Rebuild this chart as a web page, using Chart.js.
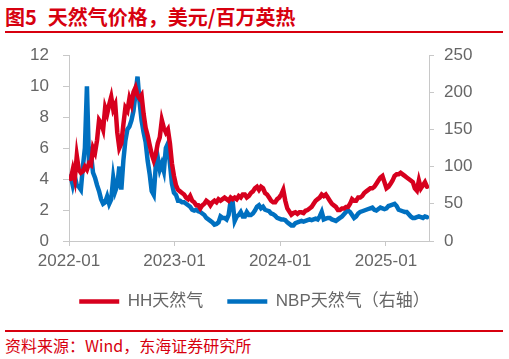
<!DOCTYPE html>
<html>
<head>
<meta charset="utf-8">
<script src="https://cdn.jsdelivr.net/npm/chart.js@4"></script>
<style>
  html, body { margin: 0; padding: 0; background: #fff; }
  #wrap { position: relative; width: 509px; height: 359px; overflow: hidden; }
  .title { position: absolute; left: 5px; top: 4px; font: bold 20px "Noto Sans CJK SC", sans-serif; color: #d7000f; line-height: 26px; white-space: pre; }
  .title span + span { margin-left: 11px; }
  .rule { position: absolute; left: 5px; width: 498px; height: 2px; background: #d7000f; }
  .source { position: absolute; left: 5px; top: 334px; font: 16px "Noto Sans CJK SC", sans-serif; color: #d7000f; line-height: 22px; }
  #box { position: absolute; left: 0; top: 0; width: 509px; height: 330px; }
</style>
</head>
<body>
<div id="wrap">
  <div class="title"><span>图5</span><span>天然气价格，美元/百万英热</span></div>
  <div class="rule" style="top:31px"></div>
  <div id="box"><canvas id="chart"></canvas></div>
  <div class="rule" style="top:330px"></div>
  <div class="source">资料来源：Wind，东海证券研究所</div>
</div>
<script>
// weekly observations, first one on 2022-01-07
const firstWeek = '2022-01-07';
const yearTicks = ['2022-01', '2023-01', '2024-01', '2025-01'];

// Henry Hub, USD/MMBtu (left axis)
const hhPrice = [
  4.0, 4.6, 4.0, 5.5, 4.6, 4.4, 4.5, 4.8, 4.6, 5.0,
  4.9, 6.0, 5.7, 6.5, 7.8, 7.6, 7.2, 8.6, 8.2, 8.8,
  9.3, 8.5, 8.8, 7.0, 6.0, 6.3, 7.5, 8.6, 8.4, 9.2,
  8.8, 9.6, 9.9, 9.4, 9.2, 9.4, 8.2, 7.3, 6.8, 6.2,
  5.6, 5.2, 5.6, 6.3, 6.7, 7.8, 7.3, 7.0, 7.2, 6.3,
  5.0, 4.2, 3.6, 3.3, 3.2, 3.1, 3.0, 2.8, 2.7, 2.9,
  2.6, 2.5, 2.3, 2.3, 2.1, 2.3, 2.4, 2.6, 2.5, 2.3,
  2.5, 2.6, 2.5, 2.7, 2.6, 2.7, 2.8, 2.7, 2.6, 2.8,
  2.7, 2.8, 2.7, 2.9, 2.8, 3.0, 3.0, 2.8, 2.9, 3.1,
  3.2, 3.4, 3.5, 3.3, 3.5, 3.4, 3.1, 3.0, 2.8, 2.6,
  2.5, 2.5, 2.7, 2.8, 3.0, 3.3, 2.6, 2.1, 1.9, 1.7,
  1.8, 1.85, 1.75, 1.85, 1.85, 1.8, 1.95, 2.0, 2.1, 2.2,
  2.4, 2.6, 2.7, 2.8, 3.0, 2.9, 3.0, 2.8, 2.6, 2.4,
  2.3, 2.2, 2.0, 2.0, 2.1, 2.1, 2.2, 2.2, 2.4, 2.7,
  2.6, 2.6, 2.8, 2.8, 2.9, 3.1, 3.2, 3.3, 3.4, 3.4,
  3.5, 3.7, 3.9, 4.1, 4.2, 3.8, 3.4, 3.5, 3.7, 3.9,
  4.2, 4.3, 4.3, 4.4, 4.3, 4.2, 4.1, 4.0, 3.9, 3.8,
  3.4, 3.25, 3.9, 3.4, 3.6, 3.8, 3.5
];

// NBP (right axis)
const nbpPrice = [
  87, 75, 87, 75, 73, 69, 100, 125, 208, 108,
  117, 92, 85, 75, 67, 56, 50, 52, 60, 50,
  56, 85, 67, 75, 100, 69, 108, 135, 150, 154,
  162, 175, 198, 221, 187, 162, 146, 133, 108, 90,
  67, 62, 100, 112, 96, 104, 94, 125, 131, 104,
  77, 65, 62, 54, 54, 52, 52, 50, 48, 46,
  42, 41, 42, 40, 39, 37, 35, 31, 29, 27,
  25, 22, 23, 25, 33, 31, 31, 29, 35, 54,
  52, 27, 33, 35, 39, 33, 33, 39, 35, 35,
  37, 41, 46, 48, 44, 46, 42, 41, 40, 37,
  36, 34, 31, 30, 29, 29, 28, 25, 23, 21,
  21, 24, 25, 26, 27, 26, 27, 28, 29, 28,
  29, 30, 29, 33, 39, 29, 30, 31, 31, 29,
  28, 27, 29, 31, 33, 36, 39, 41, 39, 35,
  31, 33, 37, 39, 40, 41, 42, 43, 44, 45,
  42, 41, 43, 45, 44, 43, 44, 47, 48, 49,
  50, 47, 42, 41, 40, 39, 39, 36, 33, 31,
  31, 32, 33, 32, 31, 33, 32
];

const RED = '#d7001e';
const BLUE = '#0070c0';
const AXIS = '#c8c8c8';
const TXT = '#666666';
const FONT = 'Liberation Sans, Arial, sans-serif';

const DAY = 86400000;
const origin = Date.UTC(2022, 0, 1);
const dayOf = (s) => {
  const [y, m, d] = s.split('-').map(Number);
  return Math.round((Date.UTC(y, m - 1, d || 1) - origin) / DAY);
};
const firstDay = dayOf(firstWeek);
const toPoints = (arr) => arr.map((v, i) => ({ x: firstDay + 7 * i, y: v }));
const tickDays = yearTicks.map(dayOf);

const ctx = document.getElementById('chart');
new Chart(ctx, {
  type: 'line',
  data: {
    datasets: [
      {
        label: 'HH天然气',
        data: toPoints(hhPrice),
        borderColor: RED,
        backgroundColor: RED,
        borderWidth: 4.5,
        borderCapStyle: 'round',
        pointRadius: 0,
        pointStyle: 'line',
        tension: 0,
        yAxisID: 'y'
      },
      {
        label: 'NBP天然气（右轴）',
        data: toPoints(nbpPrice),
        borderColor: BLUE,
        backgroundColor: BLUE,
        borderWidth: 4.5,
        borderCapStyle: 'round',
        pointRadius: 0,
        pointStyle: 'line',
        tension: 0,
        yAxisID: 'y1'
      }
    ]
  },
  options: {
    responsive: true,
    maintainAspectRatio: false,
    animation: false,
    layout: { padding: { top: 55, left: 0, right: 0, bottom: 10 } },
    plugins: {
      tooltip: { enabled: false },
      legend: {
        position: 'bottom',
        labels: {
          usePointStyle: true,
          pointStyleWidth: 40,
          padding: 24,
          color: TXT,
          font: { size: 17, family: 'Liberation Sans, Noto Sans CJK SC, sans-serif' }
        }
      }
    },
    scales: {
      x: {
        type: 'linear',
        min: 0,
        max: 1245,
        afterBuildTicks: (scale) => {
          scale.ticks = tickDays.map((v) => ({ value: v }));
        },
        afterFit: (scale) => { scale.height = 28; },
        ticks: {
          color: TXT,
          padding: 5,
          maxRotation: 0,
          font: { size: 17, family: FONT },
          callback: (v) => yearTicks[tickDays.indexOf(v)] || ''
        },
        grid: { drawOnChartArea: false, color: AXIS, tickLength: 5 },
        border: { color: AXIS }
      },
      y: {
        position: 'left',
        min: 0,
        max: 12,
        afterFit: (scale) => { scale.width = 69; },
        ticks: {
          stepSize: 2,
          color: TXT,
          padding: 14,
          font: { size: 17, family: FONT }
        },
        grid: { drawOnChartArea: false, color: AXIS, tickLength: 6 },
        border: { color: AXIS }
      },
      y1: {
        position: 'right',
        min: 0,
        max: 250,
        afterFit: (scale) => { scale.width = 80; },
        ticks: {
          stepSize: 50,
          color: TXT,
          padding: 10,
          font: { size: 17, family: FONT }
        },
        grid: { drawOnChartArea: false, color: AXIS, tickLength: 5 },
        border: { color: AXIS }
      }
    }
  }
});
</script>
</body>
</html>
